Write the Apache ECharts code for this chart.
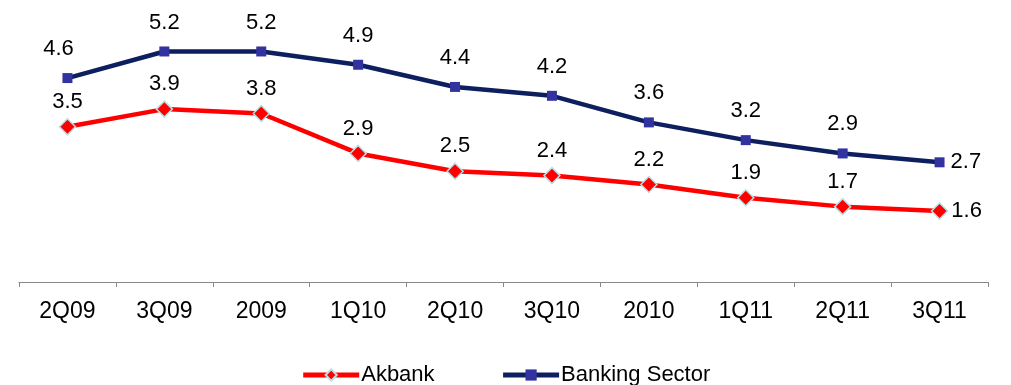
<!DOCTYPE html>
<html><head><meta charset="utf-8">
<script src="https://cdn.jsdelivr.net/npm/echarts@6/dist/echarts.min.js"></script>
<style>html,body{margin:0;padding:0;background:#fff}#c{width:1011px;height:385px}</style>
</head><body><div id="c"></div>
<script>
const categories = ['2Q09','3Q09','2009','1Q10','2Q10','3Q10','2010','1Q11','2Q11','3Q11'];
const akbank = [3.5,3.9,3.8,2.9,2.5,2.4,2.2,1.9,1.7,1.6];
const banking = [4.6,5.2,5.2,4.9,4.4,4.2,3.6,3.2,2.9,2.7];

const font = 'Arial, "Liberation Sans", sans-serif';
function lbl(arr, rightDist, firstOffset){
  return arr.map((v,i)=> {
    if (i===arr.length-1) return {value:v, label:{position:'right', distance:rightDist}};
    if (i===0 && firstOffset) return {value:v, label:{offset:[firstOffset,0]}};
    return v;
  });
}
const chart = echarts.init(document.getElementById('c'));
chart.setOption({
  animation:false,
  grid:{left:19, right:23, top:16, bottom:103},
  xAxis:{type:'category', data:categories, boundaryGap:true,
    axisLine:{lineStyle:{color:'#888', width:1}},
    axisTick:{show:true, inside:false, length:5, alignWithLabel:false, lineStyle:{color:'#888'}},
    axisLabel:{color:'#000', fontSize:23, fontFamily:font, margin:18}},
  yAxis:{type:'value', min:0, max:6, show:false, splitLine:{show:false}},
  legend:{top:359, left:'center', itemWidth:56, itemHeight:14, itemGap:66,
    lineStyle:{width:5},
    textStyle:{fontSize:22, fontFamily:font, color:'#000', padding:[0,0,0,-3]},
    data:['Akbank','Banking Sector']},
  series:[
    {name:'Akbank', type:'line', data:lbl(akbank,3,0), symbol:'diamond', symbolSize:16,
     lineStyle:{color:'#ff0000', width:4.5}, itemStyle:{color:'#ff0000', borderColor:'#b7e1e6', borderWidth:1.5},
     label:{show:true, position:'top', distance:5, fontSize:22, fontFamily:font, color:'#000', formatter:p=>p.value.toFixed(1)}},
    {name:'Banking Sector', type:'line', data:lbl(banking,6,-9), symbol:'rect', symbolSize:10,
     lineStyle:{color:'#0d1f5e', width:4.5}, itemStyle:{color:'#3333a0'},
     label:{show:true, position:'top', distance:13, fontSize:22, fontFamily:font, color:'#000', formatter:p=>p.value.toFixed(1)}}
  ]
});
</script></body></html>
